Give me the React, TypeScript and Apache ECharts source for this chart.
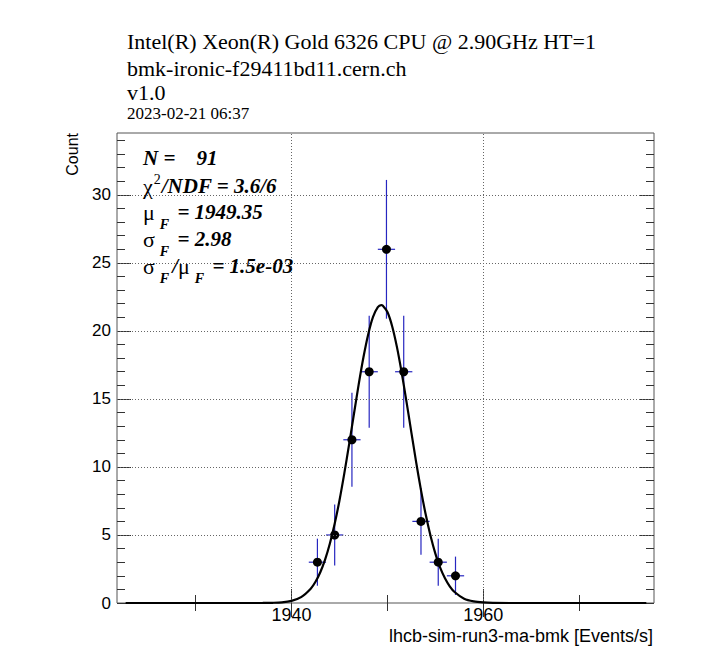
import React, { useEffect, useRef } from "react";
import * as echarts from "echarts";

// ---- data ----
const binCenters = [1942.7, 1944.5, 1946.3, 1948.1, 1949.9, 1951.7, 1953.5, 1955.3, 1957.1];
const counts = [3, 5, 12, 17, 26, 17, 6, 3, 2];
const countErrors = [1.73, 2.24, 3.46, 4.12, 5.1, 4.12, 2.45, 1.73, 1.41];
const binHalfWidth = 0.9;

// fitted gaussian curve
const fitX = [
  1922.7, 1930, 1935, 1937, 1938, 1939, 1940, 1941, 1942, 1942.5, 1943, 1943.5, 1944, 1944.5,
  1945, 1945.5, 1946, 1946.5, 1947, 1947.5, 1948, 1948.5, 1949, 1949.35, 1949.5, 1950, 1950.5,
  1951, 1951.5, 1952, 1952.5, 1953, 1953.5, 1954, 1954.5, 1955, 1955.5, 1956, 1956.5, 1957,
  1958, 1959, 1960, 1961, 1963, 1968, 1977,
];
const fitY = [
  0, 0, 0, 0.002, 0.015, 0.05, 0.16, 0.43, 1.05, 1.56, 2.26, 3.19, 4.37, 5.82,
  7.54, 9.51, 11.64, 13.86, 16.05, 18.06, 19.76, 21.03, 21.75, 21.9, 21.87, 21.39, 20.33,
  18.79, 16.88, 14.75, 12.53, 10.34, 8.3, 6.48, 4.92, 3.63, 2.6, 1.82, 1.23, 0.81,
  0.32, 0.12, 0.04, 0.01, 0, 0, 0,
];

const xMin = 1921.8;
const xMax = 1977.8;
const yMin = 0;
const yMax = 34.55;
const xMajorTicks = [1940, 1960];
const xMinorTicks = [1930, 1950, 1970];
const yMajorTicks = [0, 5, 10, 15, 20, 25, 30];
const yMinorTicks = [1, 2, 3, 4, 6, 7, 8, 9, 11, 12, 13, 14, 16, 17, 18, 19, 21, 22, 23, 24, 26, 27, 28, 29, 31, 32, 33, 34];
const xGridValues = [1940, 1960];
const yGridValues = [5, 10, 15, 20, 25, 30];

const titleLines = [
  "Intel(R) Xeon(R) Gold 6326 CPU @ 2.90GHz HT=1",
  "bmk-ironic-f29411bd11.cern.ch",
  "v1.0",
  "2023-02-21 06:37",
];
const xAxisTitle = "lhcb-sim-run3-ma-bmk [Events/s]";
const yAxisTitle = "Count";
const statLines = [
  "{b|N =    91}",
  "{g|χ}{sup|2}{b|/NDF = 3.6/6}",
  "{g|μ}{sub|F}{b| = 1949.35}",
  "{g|σ}{sub|F}{b| = 2.98}",
  "{g|σ}{sub|F}{b|/}{g|μ}{sub|F}{b| = 1.5e-03}",
];

const SANS = "Liberation Sans, Arial, sans-serif";
const SERIF = "Liberation Serif, Times New Roman, serif";
const BLUE = "#2626c0";
const TICK = { color: "#333", width: 1 };

export default function App() {
  const ref = useRef<HTMLDivElement>(null);

  useEffect(() => {
    if (!ref.current) return;
    const chart = echarts.init(ref.current, undefined, { renderer: "svg" });

    const xAxisBase = (position: string, ticks: number[], len: number, labels: boolean) => ({
      type: "value",
      position,
      min: xMin,
      max: xMax,
      axisLine: { show: false },
      axisTick: { show: true, inside: true, length: len, customValues: ticks, lineStyle: TICK },
      axisLabel: labels
        ? {
            show: true, customValues: ticks, color: "#000", fontSize: 18, fontFamily: SANS, margin: 3,
            lineHeight: 18,
            formatter: (v: number) => String(v),
          }
        : { show: false },
      splitLine: { show: false },
    });
    const yAxisBase = (position: string, ticks: number[], len: number, labels: boolean) => ({
      type: "value",
      position,
      min: yMin,
      max: yMax,
      interval: 5,
      axisLine: { show: false },
      axisTick: { show: true, inside: true, length: len, customValues: ticks, lineStyle: TICK },
      axisLabel: labels
        ? {
            show: true, customValues: ticks, color: "#000", fontSize: 17, fontFamily: SANS, margin: 6,
            formatter: (v: number) => String(v),
          }
        : { show: false },
      splitLine: { show: false },
    });

    const richStats = {
      b: { fontFamily: SERIF, fontWeight: "bold", fontStyle: "italic", fontSize: 21, color: "#000" },
      g: { fontFamily: SERIF, fontSize: 22, color: "#000" },
      sub: {
        fontFamily: SERIF, fontWeight: "bold", fontStyle: "italic", fontSize: 14, color: "#000",
        padding: [24, 3, 0, 5],
      },
      sup: { fontFamily: SERIF, fontSize: 14, color: "#000", padding: [0, 1, 14, 1] },
    };
    const statY = [158, 186, 212, 239, 266];
    const titleY = [41, 68, 92, 113];
    const titleSize = [22, 22, 22, 17];

    chart.setOption({
      animation: false,
      backgroundColor: "#fff",
      grid: {
        left: 117,
        right: 56,
        top: 133,
        bottom: 59,
        show: true,
        borderColor: "#555",
        borderWidth: 1,
        backgroundColor: "transparent",
      },
      xAxis: [
        xAxisBase("bottom", xMajorTicks, 14, true),
        xAxisBase("bottom", xMinorTicks, 8, false),
        xAxisBase("top", xMajorTicks, 14, false),
        xAxisBase("top", xMinorTicks, 8, false),
      ],
      yAxis: [
        yAxisBase("left", yMajorTicks, 14, true),
        yAxisBase("left", yMinorTicks, 8, false),
        yAxisBase("right", yMajorTicks, 14, false),
        yAxisBase("right", yMinorTicks, 8, false),
      ],
      graphic: [
        ...titleLines.map((t, i) => ({
          type: "text",
          x: 127,
          y: titleY[i],
          z: 10,
          style: { text: t, fontFamily: SERIF, fontSize: titleSize[i], fill: "#000", verticalAlign: "middle" },
        })),
        ...statLines.map((t, i) => ({
          type: "text",
          x: 143,
          y: statY[i],
          z: 10,
          style: { text: t, rich: richStats, verticalAlign: "middle", fill: "#000" },
        })),
        {
          type: "text",
          right: 57,
          top: 627,
          z: 10,
          style: { text: xAxisTitle, fontFamily: SANS, fontSize: 18, fill: "#000" },
        },
        {
          type: "text",
          x: 72,
          y: 133,
          rotation: Math.PI / 2,
          z: 10,
          style: {
            text: yAxisTitle, fontFamily: SANS, fontSize: 16, fill: "#000",
            align: "right", verticalAlign: "middle",
          },
        },
      ],
      series: [
        {
          type: "line",
          name: "grid",
          data: [],
          z: 1,
          silent: true,
          markLine: {
            silent: true,
            symbol: ["none", "none"],
            label: { show: false },
            lineStyle: { color: "#666", width: 1, type: [1, 2] },
            data: [
              ...xGridValues.map((v) => ({ xAxis: v })),
              ...yGridValues.map((v) => ({ yAxis: v })),
            ],
          },
        },
        {
          type: "custom",
          name: "errors",
          z: 3,
          data: binCenters.map((x, i) => [x, counts[i], countErrors[i], binHalfWidth]),
          encode: { x: 0, y: 1 },
          renderItem: (params: any, api: any) => {
            const x = api.value(0);
            const y = api.value(1);
            const e = api.value(2);
            const w = api.value(3);
            const top = api.coord([x, y + e]);
            const bot = api.coord([x, Math.max(0, y - e)]);
            const l = api.coord([x - w, y]);
            const r = api.coord([x + w, y]);
            return {
              type: "group",
              children: [
                { type: "line", shape: { x1: top[0], y1: top[1], x2: bot[0], y2: bot[1] }, style: { stroke: BLUE, lineWidth: 1.2 } },
                { type: "line", shape: { x1: l[0], y1: l[1], x2: r[0], y2: r[1] }, style: { stroke: BLUE, lineWidth: 1.2 } },
              ],
            };
          },
        },
        {
          type: "scatter",
          name: "counts",
          z: 4,
          symbol: "circle",
          symbolSize: 9,
          itemStyle: { color: "#000", opacity: 1 },
          data: binCenters.map((x, i) => [x, counts[i]]),
        },
        {
          type: "line",
          name: "fit",
          z: 5,
          smooth: 0.3,
          showSymbol: false,
          clip: true,
          lineStyle: { color: "#000", width: 2.2 },
          data: fitX.map((x, i) => [x, fitY[i]]),
        },
      ],
    });

    return () => chart.dispose();
  }, []);

  return (
    <div
      ref={ref}
      style={{ position: "fixed", left: 0, top: 0, width: 710, height: 662, background: "#fff" }}
    />
  );
}
